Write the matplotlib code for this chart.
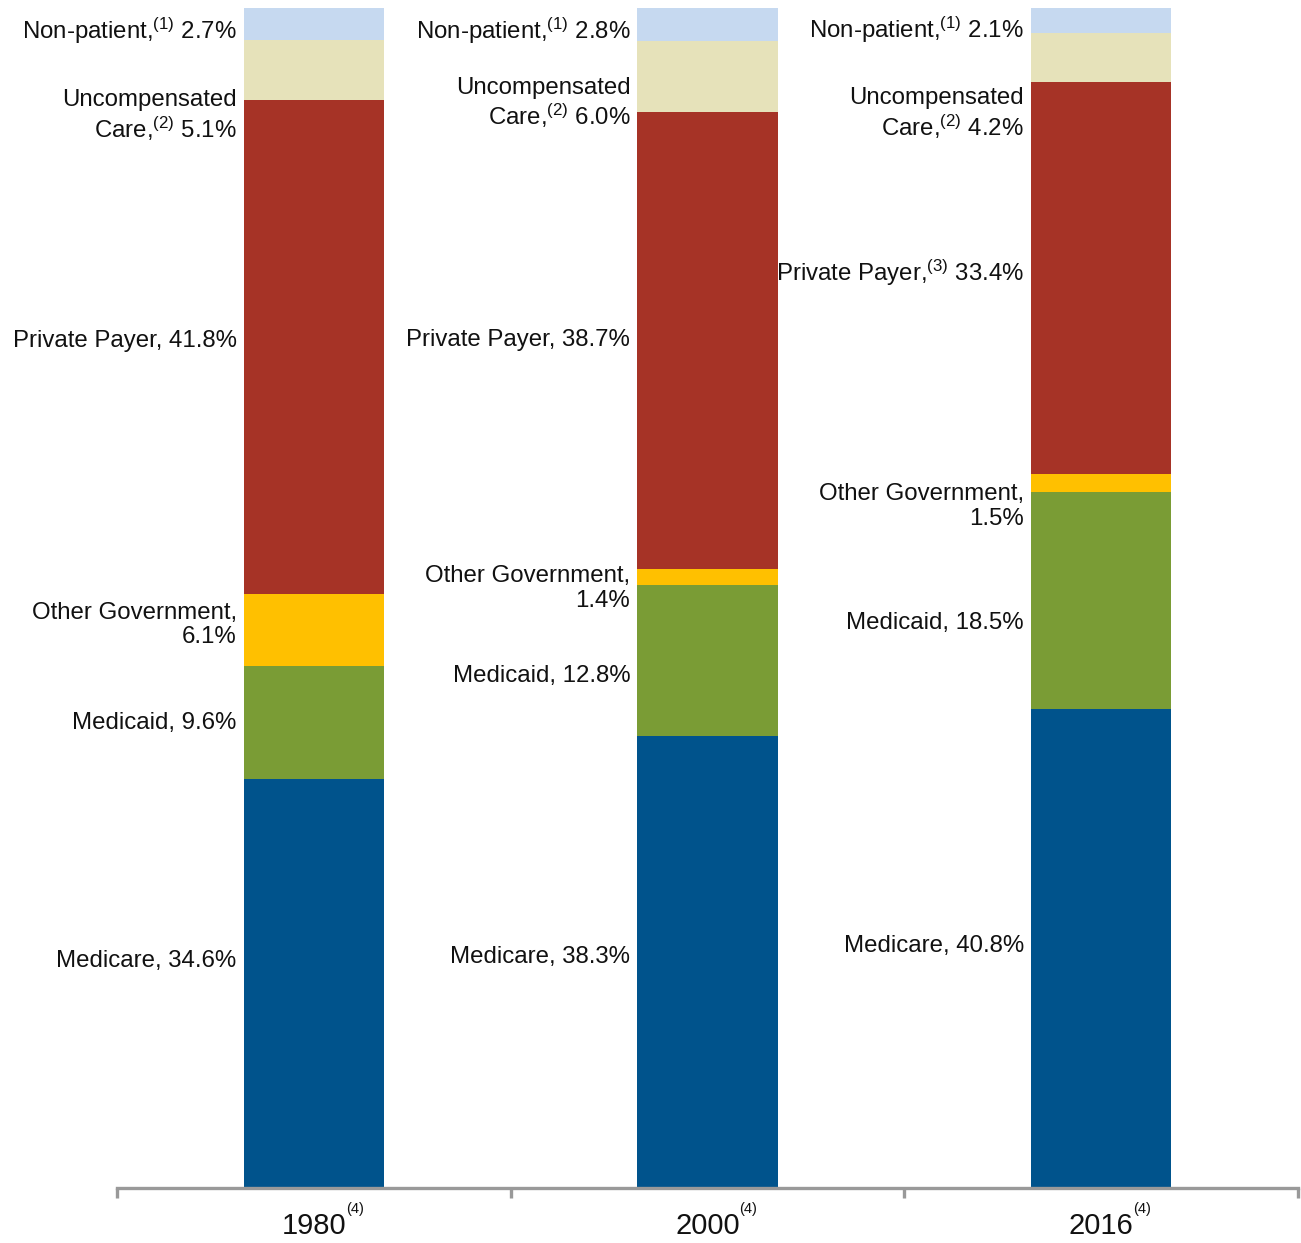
import numpy as np
import matplotlib
matplotlib.use("Agg")
import matplotlib.pyplot as plt

plt.rcParams['font.family'] = ['Liberation Sans', 'DejaVu Sans']
plt.rcParams['mathtext.fontset'] = 'custom'
plt.rcParams['mathtext.rm'] = 'Liberation Sans'
plt.rcParams['mathtext.default'] = 'regular'

years = ["1980", "2000", "2016"]
payers = ["Medicare", "Medicaid", "Other Government", "Private Payer",
          "Uncompensated Care", "Non-patient"]

medicare = [34.6, 38.3, 40.8]
medicaid = [9.6, 12.8, 18.5]
other_gov = [6.1, 1.4, 1.5]
private = [41.8, 38.7, 33.4]
uncompensated = [5.1, 6.0, 4.2]
non_patient = [2.7, 2.8, 2.1]

colors = ["#00538C", "#7A9C35", "#FFC000", "#A63326", "#E6E2BA", "#C6D9F0"]

# label text templates per payer, per year (footnote markers vary)
label_fmt = [
    ["Medicare, {:.1f}%"] * 3,
    ["Medicaid, {:.1f}%"] * 3,
    ["Other Government,\n{:.1f}%"] * 3,
    ["Private Payer, {:.1f}%", "Private Payer, {:.1f}%",
     "Private Payer,$^{{(3)}}$ {:.1f}%"],
    ["Uncompensated\nCare,$^{{(2)}}$ {:.1f}%"] * 3,
    ["Non-patient,$^{{(1)}}$ {:.1f}%"] * 3,
]
# vertical nudges of labels from segment middle (percent units)
label_nudge = [
    [1.9, 0.4, 0.2],
    [0.0, -1.3, -1.9],
    [0.4, -1.0, -2.0],
    [0.5, 0.0, 0.4],
    [-3.9, -2.3, -4.8],
    [-0.6, -0.55, -0.85],
]

series = [medicare, medicaid, other_gov, private, uncompensated, non_patient]
totals = np.sum(np.array(series), axis=0)

fig = plt.figure(figsize=(13.01, 12.43), dpi=100)
ax = fig.add_axes([117 / 1301, 55 / 1243, 1181 / 1301, 1180 / 1243])

x = np.arange(len(years))
width = 0.356
bottom = np.zeros(len(years))
for i, vals in enumerate(series):
    vals = np.array(vals)
    shares = vals / totals * 100  # bars fill to 100% like the original
    ax.bar(x, shares, width, bottom=bottom, color=colors[i], edgecolor='none')
    for j in range(len(years)):
        y = bottom[j] + shares[j] / 2 + label_nudge[i][j]
        ax.text(x[j] - width / 2 - 0.018, y, label_fmt[i][j].format(vals[j]),
                ha='right', va='center', multialignment='right',
                fontsize=17.3, color='#111111', linespacing=1.15)
    bottom += shares

ax.set_xlim(-0.5, 2.5)
ax.set_ylim(0, 100)
ax.set_yticks([])
for s in ['left', 'right', 'top']:
    ax.spines[s].set_visible(False)
ax.spines['bottom'].set_color('#999999')
ax.spines['bottom'].set_linewidth(2.4)

ax.set_xticks(x)
ax.set_xticklabels([])
ax.tick_params(axis='x', which='major', length=0)
ax.set_xticks([-0.5, 0.5, 1.5, 2.5], minor=True)
ax.tick_params(axis='x', which='minor', length=7, width=2.4,
               color='#999999', direction='out')

trans = ax.get_xaxis_transform()
for j, yr in enumerate(years):
    ax.annotate(yr, xy=(x[j], 0), xycoords=trans, xytext=(0, -27),
                textcoords='offset points', ha='center', va='center',
                fontsize=21, color='#111111')
    ax.annotate("(4)", xy=(x[j], 0), xycoords=trans, xytext=(23, -15),
                textcoords='offset points', ha='left', va='center',
                fontsize=10.5, color='#111111')

fig.savefig("out.png", dpi=100)
